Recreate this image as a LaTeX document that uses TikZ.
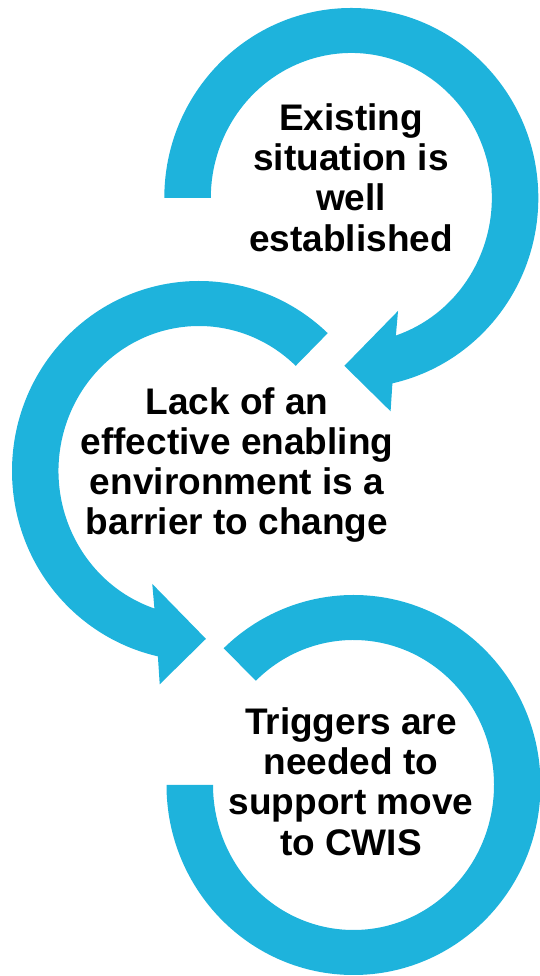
\documentclass[tikz,border=0pt]{standalone}
\usepackage{fontspec}
\setmainfont{Liberation Sans}
\usetikzlibrary{calc}
\definecolor{ringblue}{RGB}{30,179,220}
\tikzset{
  ring/.style={fill=ringblue, draw=none},
  label/.style={align=center, anchor=center, inner sep=0pt, text=black,
    font=\fontsize{37}{40.3}\selectfont\bfseries}
}
\begin{document}
\begin{tikzpicture}[x=1pt,y=1pt]
\useasboundingbox (0,0) rectangle (539,976);
\coordinate (c1) at (351.3,778);
\coordinate (c2) at (199,505);
\coordinate (c3) at (353.5,191);
% ring 1: clockwise from the left, arrow at lower left
\fill[ring] ($(c1)+(180:187 and 190)$)
  arc[start angle=180, end angle=-77.3, x radius=187, y radius=190]
  -- ($(c1)+(-79.4:213.6 and 217)$)
  -- ($(c1)+(-92.4:165.4 and 168)$)
  -- ($(c1)+(-67.2:120.6 and 122.5)$)
  -- ($(c1)+(-71.5:140.5 and 145)$)
  arc[start angle=-71.5, end angle=180, x radius=140.5, y radius=145]
  -- cycle;
% ring 2: counter-clockwise from upper right, arrow at bottom
\fill[ring] ($(c2)+(46.5:187 and 190)$)
  arc[start angle=46.5, end angle=257.3, x radius=187, y radius=190]
  -- ($(c2)+(259.4:213.6 and 217)$)
  -- ($(c2)+(272.4:165.4 and 168)$)
  -- ($(c2)+(247.2:120.6 and 122.5)$)
  -- ($(c2)+(251.5:140.5 and 145)$)
  arc[start angle=251.5, end angle=46.5, x radius=140.5, y radius=145]
  -- cycle;
% ring 3: open at upper left, no arrow
\fill[ring] ($(c3)+(180:187 and 190)$)
  arc[start angle=180, end angle=494, x radius=187, y radius=190]
  -- ($(c3)+(494:140.5 and 145)$)
  arc[start angle=494, end angle=180, x radius=140.5, y radius=145]
  -- cycle;
\node[label] (t1) at (351,798.5) {Existing\\situation is\\well\\established};
\node[label] (t2) at (237,511) {Lack of an\\effective enabling\\environment is a\\barrier to change};
\node[label] (t3) at (351,194.5) {Triggers are\\needed to\\support move\\to CWIS};
\end{tikzpicture}
\end{document}
